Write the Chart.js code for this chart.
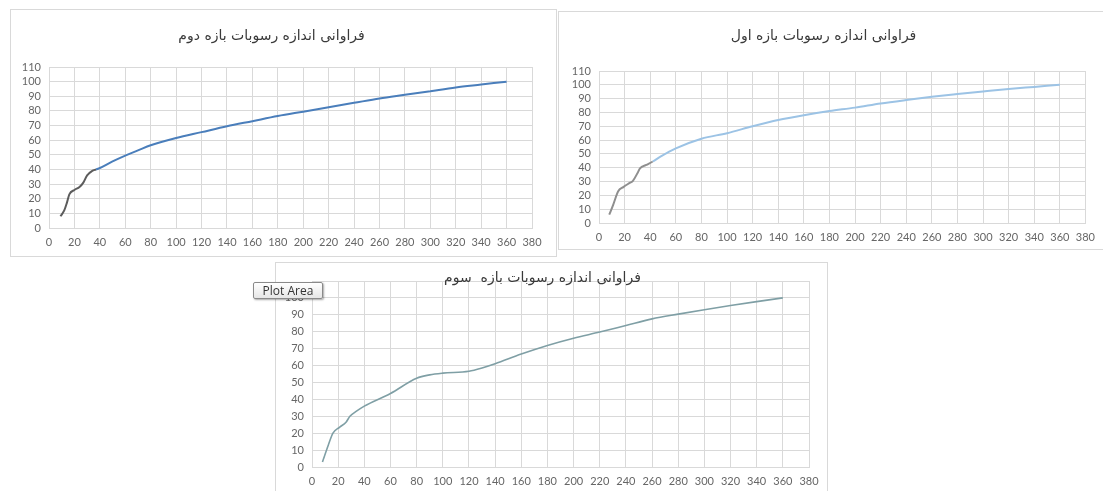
<!DOCTYPE html>
<html>
<head>
<meta charset="utf-8">
<script src="https://cdn.jsdelivr.net/npm/chart.js@4.4.1/dist/chart.umd.min.js"></script>
<style>
  body { margin: 0; width: 1103px; height: 491px; background: #fff; position: relative; overflow: hidden; }
  .box { position: absolute; background: #fff; border: 1px solid #d9d9d9; }
  .box canvas { position: absolute; left: 0; top: 0; }
  #tip {
    position: absolute; left: 253px; top: 282px; width: 68px; height: 15px;
    border: 1px solid #8a8a8a; border-radius: 2px;
    background: linear-gradient(#ffffff, #e6e6e6);
    box-shadow: 1px 1px 2px rgba(0,0,0,.35);
    font: 12px 'Open Sans', sans-serif; color: #333; line-height: 15px; text-align: center;
    z-index: 5;
  }
</style>
</head>
<body>
<div class="box" style="left:10px;top:9px;width:545px;height:246px"><canvas id="chartSecond" width="545" height="246"></canvas></div>
<div class="box" style="left:558px;top:11px;width:550px;height:237px"><canvas id="chartFirst" width="544" height="237"></canvas></div>
<div class="box" style="left:275px;top:262px;width:551px;height:240px"><canvas id="chartThird" width="551" height="228"></canvas></div>
<div id="tip">Plot Area</div>

<script>
// axis ticks
const xTicks = [0, 20, 40, 60, 80, 100, 120, 140, 160, 180, 200, 220, 240, 260, 280, 300, 320, 340, 360, 380];
const yTicks = [0, 10, 20, 30, 40, 50, 60, 70, 80, 90, 100, 110];

// بازه دوم (top left)
const titleSecond = 'فراوانی اندازه رسوبات بازه دوم';
const xSecond = [9, 12, 14, 16, 20, 24, 27, 30, 34, 37, 40, 50, 60, 70, 80, 100, 120, 140, 160, 180, 200, 220, 240, 260, 280, 300, 320, 340, 360];
const ySecond = [8, 12, 17, 23, 26, 28, 31, 36, 39, 40, 41, 45.5, 49.5, 53, 56.5, 61.5, 65.5, 69.5, 73, 76.5, 79.5, 82.5, 85.5, 88.5, 91, 93.5, 96, 98, 100];

// بازه اول (top right)
const titleFirst = 'فراوانی اندازه رسوبات بازه اول';
const xFirst = [8, 11, 15, 19, 24, 26.5, 30, 32, 37, 42, 48, 60, 80, 100, 120, 140, 160, 180, 200, 220, 240, 260, 280, 300, 320, 340, 360];
const yFirst = [6, 13, 23, 26, 29, 30.5, 36, 39.5, 42, 44.5, 48, 54, 61, 65, 70, 74.5, 78, 81, 83.5, 86.5, 89, 91.3, 93.3, 95.2, 97, 98.5, 100];

// بازه سوم (bottom)
const titleThird = 'فراوانی اندازه رسوبات بازه  سوم';
const xThird = [8, 12.5, 16, 21, 26, 29, 34, 40, 60, 80, 90, 100, 120, 130, 140, 160, 180, 200, 220, 240, 260, 280, 300, 320, 340, 360];
const yThird = [3, 13, 20, 23.5, 26.5, 30, 33, 36, 43.5, 52.5, 54.5, 55.5, 56.6, 58.5, 61, 66.8, 71.9, 76.2, 79.8, 83.7, 87.6, 90.4, 93, 95.5, 97.8, 100];

const gridCol = '#d9d9d9';
const tickFont = { family: 'Lato', size: 11 };

function makeChart(id, title, xs, ys, o) {
  const pts = xs.map((x, i) => ({ x: x, y: ys[i] }));
  return new Chart(document.getElementById(id), {
    type: 'line',
    data: {
      datasets: [{
        data: pts,
        borderColor: o.color,
        borderWidth: o.width,
        pointRadius: 0,
        fill: false,
        cubicInterpolationMode: 'monotone',
        segment: {
          borderColor: ctx => ctx.p1.parsed.x <= o.grayUntil ? o.startColor : o.color
        }
      }]
    },
    options: {
      responsive: false,
      devicePixelRatio: 1,
      animation: false,
      events: [],
      layout: { padding: { left: 0, right: o.padRight, top: 0, bottom: 0 } },
      plugins: {
        legend: { display: false },
        tooltip: { enabled: false },
        title: {
          display: true,
          text: title,
          color: '#3a3a3a',
          font: { family: 'DejaVu Sans', size: 14, weight: 'normal', lineHeight: 1.2 },
          padding: { top: o.titleTop, bottom: o.titleBottom }
        }
      },
      scales: {
        x: {
          type: 'linear', min: 0, max: 380,
          afterBuildTicks: s => { s.ticks = xTicks.map(v => ({ value: v })); },
          afterFit: s => { s.height = o.xAxisH; },
          grid: { color: gridCol, drawTicks: false },
          border: { color: gridCol },
          ticks: { padding: 8, color: '#666', font: tickFont, maxRotation: 0, autoSkip: false }
        },
        y: {
          min: 0, max: 110,
          afterBuildTicks: s => { s.ticks = yTicks.map(v => ({ value: v })); },
          afterFit: s => { s.width = o.yAxisW; },
          grid: { color: gridCol, drawTicks: false },
          border: { color: gridCol },
          ticks: {
            padding: 8, color: '#666', font: tickFont, autoSkip: false,
            // the top label of the bottom chart sits under the "Plot Area" hint
            callback: v => (o.hideTop && v === 110) ? '' : v
          }
        }
      }
    }
  });
}

makeChart('chartSecond', titleSecond, xSecond, ySecond, {
  color: '#4a7ebb', startColor: '#5c5c5c', grayUntil: 37, width: 2,
  padRight: 24, yAxisW: 38, xAxisH: 28, titleTop: 17.6, titleBottom: 22.6
});

makeChart('chartFirst', titleFirst, xFirst, yFirst, {
  color: '#9cc3e5', startColor: '#8f8f8f', grayUntil: 44, width: 2,
  padRight: 15, yAxisW: 40, xAxisH: 26, titleTop: 15.6, titleBottom: 26.6
});

makeChart('chartThird', titleThird, xThird, yThird, {
  color: '#7f9fa5', startColor: '#7f9fa5', grayUntil: -1, width: 1.6,
  padRight: 18, yAxisW: 36, xAxisH: 24, titleTop: 6.6, titleBottom: -5.4, hideTop: true
});
</script>
</body>
</html>
